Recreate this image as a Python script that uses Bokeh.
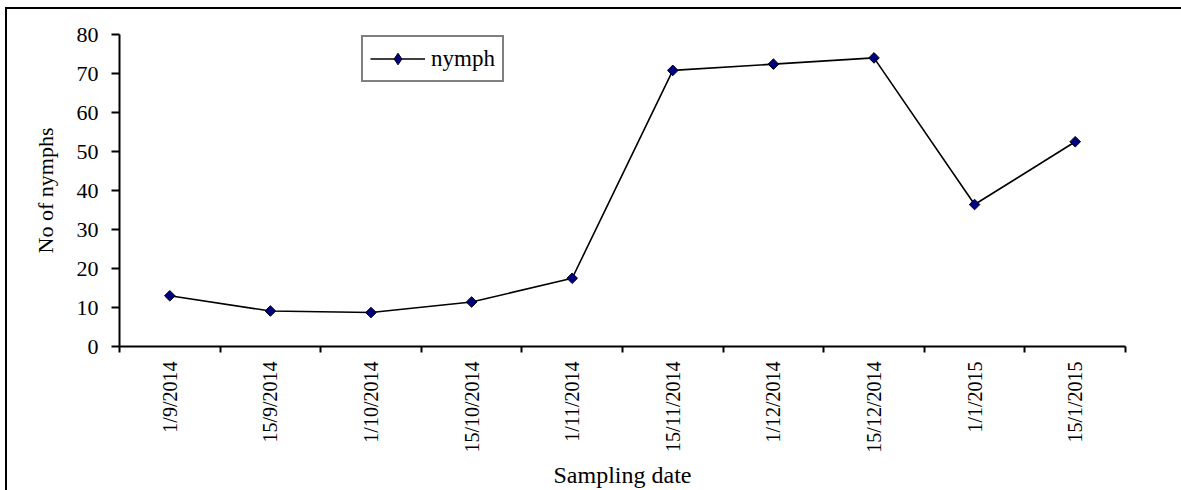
from bokeh.plotting import figure
from bokeh.models import (Range1d, FixedTicker, ColumnDataSource, Legend, LegendItem,
                          InlineStyleSheet, GlobalInlineStyleSheet)
from bokeh.embed import file_html
from bokeh.resources import INLINE
import math

# Sampling dates and nymph counts
dates = ["1/9/2014", "15/9/2014", "1/10/2014", "15/10/2014", "1/11/2014",
         "15/11/2014", "1/12/2014", "15/12/2014", "1/1/2015", "15/1/2015"]
nymphs = [13.0, 9.1, 8.7, 11.4, 17.5, 70.8, 72.4, 74.0, 36.4, 52.5]
y_ticks = [0, 10, 20, 30, 40, 50, 60, 70, 80]

FONT = "Liberation Serif"
NAVY = "#000080"

# each date occupies one unit slot; marks sit in the middle of the slot
centers = [i + 0.5 for i in range(len(dates))]
source = ColumnDataSource(dict(x=centers, y=nymphs, date=dates))

p = figure(width=1181, height=490, output_backend="svg", toolbar_location=None,
           x_range=Range1d(0, len(dates)), y_range=Range1d(y_ticks[0], y_ticks[-1]),
           min_border_left=119, min_border_right=56, min_border_top=34, min_border_bottom=144)

# page without scrollbars; chart-area border: black rule along the left and top edges
p.stylesheets = [
    GlobalInlineStyleSheet(css="html, body { overflow: hidden; margin: 0; padding: 0; }"),
    InlineStyleSheet(css="""
:host::after {
  content: "";
  position: absolute;
  left: 5px; top: 7px; right: 0; bottom: 0;
  border-left: 2px solid black;
  border-top: 2px solid black;
  pointer-events: none;
}
"""),
]
p.border_fill_color = "white"
p.background_fill_color = "white"
p.outline_line_color = None
p.xgrid.visible = False
p.ygrid.visible = False

line = p.line("x", "y", source=source, line_color="black", line_width=1.6)
pts = p.scatter("x", "y", source=source, marker="square", angle=math.pi / 4, size=7.5,
                fill_color=NAVY, line_color="black", line_width=1)
# diamond swatch used by the legend only
key = p.scatter("x", "y", source=source, marker="diamond", fill_color=NAVY,
                line_color="black", line_width=1, visible=False)

# x axis: labels under each date, tick marks on slot boundaries
xa = p.xaxis[0]
xa.ticker = FixedTicker(ticks=centers, minor_ticks=list(range(len(dates) + 1)))
xa.major_label_overrides = {c: d for c, d in zip(centers, dates)}
xa.major_label_orientation = math.pi / 2
xa.major_tick_out = 0
xa.major_tick_in = 0
xa.minor_tick_out = 6
xa.minor_tick_in = 0
xa.minor_tick_line_color = "black"
xa.minor_tick_line_width = 2
xa.major_label_standoff = 9
xa.major_label_text_font = FONT
xa.major_label_text_font_size = "20px"
xa.major_label_text_color = "black"
xa.axis_line_color = "black"
xa.axis_line_width = 2
xa.axis_label = "Sampling date"
xa.axis_label_text_font = FONT
xa.axis_label_text_font_size = "24px"
xa.axis_label_text_font_style = "normal"
xa.axis_label_text_color = "black"
xa.axis_label_standoff = 6

ya = p.yaxis[0]
ya.ticker = FixedTicker(ticks=y_ticks)
ya.major_tick_out = 8
ya.major_tick_in = 0
ya.major_tick_line_width = 2
ya.major_tick_line_color = "black"
ya.minor_tick_out = 0
ya.minor_tick_in = 0
ya.major_label_standoff = 13
ya.major_label_text_font = FONT
ya.major_label_text_font_size = "22px"
ya.major_label_text_color = "black"
ya.axis_line_color = "black"
ya.axis_line_width = 2
ya.axis_label = "No of nymphs"
ya.axis_label_text_font = FONT
ya.axis_label_text_font_size = "22px"
ya.axis_label_text_font_style = "normal"
ya.axis_label_text_color = "black"
ya.axis_label_standoff = 16

legend = Legend(items=[LegendItem(label="nymph", renderers=[line, key])],
                location=(242, 264), orientation="vertical",
                glyph_width=55, glyph_height=29, label_height=29, label_standoff=6,
                padding=7, margin=0, spacing=0, inactive_fill_alpha=0,
                label_text_font=FONT, label_text_font_size="23px", label_text_color="black",
                label_text_baseline="middle",
                border_line_color="black", border_line_width=2,
                background_fill_color="white", background_fill_alpha=1)
p.add_layout(legend)

open("out.html", "w").write(file_html(p, INLINE))
